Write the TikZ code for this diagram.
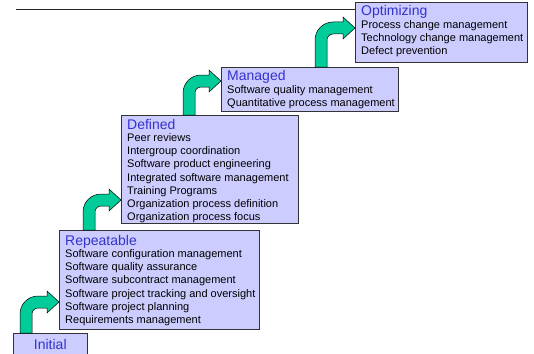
\documentclass[tikz,border=0pt]{standalone}
\usepackage{fontspec}
\setmainfont{Liberation Sans}
\usetikzlibrary{shadows,calc}
\definecolor{stagefill}{RGB}{204,204,255}
\definecolor{titleblue}{RGB}{51,51,204}
\definecolor{stairgreen}{RGB}{0,204,153}
\newcommand{\steptitle}[1]{{\fontsize{14}{16}\selectfont\color{titleblue}#1}}
\newcommand{\bentarrow}[4]{%
  \filldraw[stairarrow] let \p1=(#1.north west), \p2=(#2.north west) in
    ({\x1+#3pt},\y1) -- ({\x1+#3pt},{\y2-#4pt-12pt})
    arc[start angle=180, end angle=90, radius=18pt]
    -- ({\x2-12pt},{\y2-#4pt+6pt}) -- ({\x2-12pt},{\y2-#4pt+11pt})
    -- (\x2,{\y2-#4pt}) -- ({\x2-12pt},{\y2-#4pt-11pt})
    -- ({\x2-12pt},{\y2-#4pt-6pt}) -- ({\x1+#3pt+18pt},{\y2-#4pt-6pt})
    arc[start angle=90, end angle=180, radius=6pt]
    -- ({\x1+#3pt+12pt},\y1) -- cycle;}
\tikzset{
  stagebox/.style={draw=black!80, line width=0.6pt, fill=stagefill, anchor=north west, inner sep=0pt,
    drop shadow={shadow xshift=1pt, shadow yshift=-1pt, fill=black!70}},
  stagetext/.style={anchor=north west, inner sep=0pt, align=left, font=\fontsize{11}{13.2}\selectfont},
  stairarrow/.style={fill=stairgreen, draw=black, line width=0.5pt},
  topline/.style={line width=1pt, black!85}
}
\begin{document}
\begin{tikzpicture}[x=1pt,y=1pt]
\useasboundingbox (0,0) rectangle (534,-353);
\node[stagebox, minimum width=74pt, minimum height=22pt, font=\fontsize{14}{16}\selectfont, text=titleblue] (initial) at (13,-333) {Initial};
\node[stagebox, minimum width=200pt, minimum height=99pt] (repeatable) at (59,-230) {};
\node[stagebox, minimum width=177pt, minimum height=108pt] (defined) at (121,-115) {};
\node[stagebox, minimum width=177pt, minimum height=44pt] (managed) at (221,-67) {};
\node[stagebox, minimum width=172pt, minimum height=60pt] (optimizing) at (355,-2) {};

\node[stagetext] (repeatable-text) at ([shift={(6pt,-5pt)}]repeatable.north west) {\steptitle{Repeatable}\\[-1pt]
  Software configuration management\\ Software quality assurance\\ Software subcontract management\\
  Software project tracking and oversight\\ Software project planning\\ Requirements management};
\node[stagetext] (defined-text) at ([shift={(6pt,-4pt)}]defined.north west) {\steptitle{Defined}\\[-1pt]
  Peer reviews\\ Intergroup coordination\\ Software product engineering\\ Integrated software management\\
  Training Programs\\ Organization process definition\\ Organization process focus};
\node[stagetext] (managed-text) at ([shift={(6pt,-3.5pt)}]managed.north west) {\steptitle{Managed}\\[-1pt]
  Software quality management\\ Quantitative process management};
\node[stagetext] (optimizing-text) at ([shift={(6pt,-3.5pt)}]optimizing.north west) {\steptitle{Optimizing}\\[-1pt]
  Process change management\\ Technology change management\\ Defect prevention};

\bentarrow{initial}{repeatable}{7}{72}
\bentarrow{repeatable}{defined}{24}{85}
\bentarrow{defined}{managed}{62}{14}
\bentarrow{managed}{optimizing}{94}{26}

\coordinate (linestart) at (16,-10);
\draw[topline] (linestart) -- (linestart -| optimizing.west);
\end{tikzpicture}
\end{document}
